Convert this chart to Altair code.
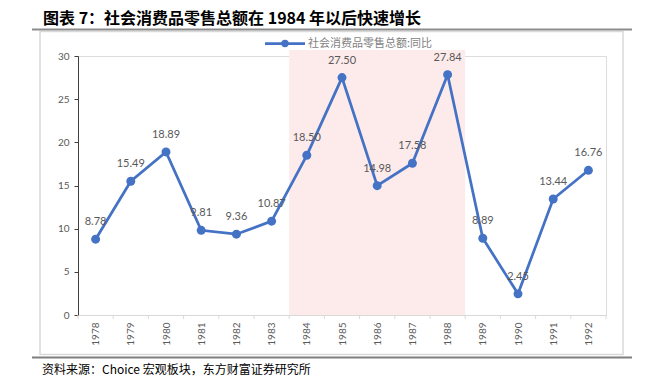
import altair as alt
import pandas as pd

years = [1978, 1979, 1980, 1981, 1982, 1983, 1984, 1985, 1986, 1987, 1988, 1989, 1990, 1991, 1992]
growth = [8.78, 15.49, 18.89, 9.81, 9.36, 10.87, 18.50, 27.50, 14.98, 17.58, 27.84, 8.89, 2.45, 13.44, 16.76]
series_name = "社会消费品零售总额:同比"
shade_start = [1983.5]
shade_end = [1988.5]
shade_top = [30.7]
y_ticks = [0, 5, 10, 15, 20, 25, 30]
title_text = "图表 7：社会消费品零售总额在 1984 年以后快速增长"
source_text = "资料来源：Choice 宏观板块，东方财富证券研究所"

W, H = 528, 259
BLUE = "#4472C4"
CJK = "Noto Sans CJK SC"
NUM = "Lato"

df = pd.DataFrame({"year": years, "growth": growth})
edges = pd.DataFrame({"edge": [years[0] - 0.5] + [y + 0.5 for y in years]})
shade = pd.DataFrame({"x0": shade_start, "x1": shade_end, "top": shade_top, "y0": [0]})
one = pd.DataFrame({"a": [0]})

xscale = alt.Scale(domain=[years[0] - 0.5, years[-1] + 0.5], nice=False, zero=False)
yscale = alt.Scale(domain=[0, 30], nice=False)

xaxis = alt.Axis(values=years, format="d", labelAngle=270, ticks=False, domainColor="#D9D9D9",
                 domainWidth=1, labelColor="#595959", labelFont=NUM, labelFontSize=10,
                 labelPadding=7, labelOverlap=False, labelBound=False, labelFlush=False,
                 title=None, grid=False)
yaxis = alt.Axis(values=y_ticks, tickSize=4, tickColor="#404040", domainColor="#404040",
                 labelColor="#595959", labelFont=NUM, labelFontSize=10, labelPadding=5,
                 labelOverlap=False, title=None, grid=False)

X = lambda f: alt.X(f, scale=xscale, axis=xaxis)
Y = lambda f: alt.Y(f, scale=yscale, axis=yaxis)

shade_l = alt.Chart(shade).mark_rect(color="#FDEBEB").encode(
    x=X("x0:Q"), x2="x1:Q", y=Y("y0:Q"), y2="top:Q",
)

ticks_l = alt.Chart(edges).mark_rule(color="#D9D9D9", strokeWidth=1).encode(
    x=X("edge:Q"), y=alt.value(H), y2=alt.value(H + 4),
)

line_l = alt.Chart(df).mark_line(color=BLUE, strokeWidth=2.75).encode(
    x=X("year:Q"), y=Y("growth:Q"),
)
pts_l = alt.Chart(df).mark_circle(color=BLUE, size=80, opacity=1).encode(
    x=X("year:Q"), y=Y("growth:Q"),
)
lbl_l = alt.Chart(df).mark_text(dy=-17, color="#595959", font=NUM, fontSize=11,
                                baseline="middle", align="center").encode(
    x=X("year:Q"), y=Y("growth:Q"),
    text=alt.Text("growth:Q", format=".2f"),
)

# legend
leg_line = alt.Chart(one).mark_rule(color=BLUE, strokeWidth=2.75).encode(
    x=alt.value(187), x2=alt.value(227), y=alt.value(-12.5))
leg_pt = alt.Chart(one).mark_circle(color=BLUE, size=55, opacity=1).encode(
    x=alt.value(207), y=alt.value(-12.5))
leg_txt = alt.Chart(one).mark_text(text=series_name, align="left", baseline="middle",
                                   font=CJK, fontSize=11, color="#7F7F7F").encode(
    x=alt.value(230), y=alt.value(-12.5))

# frame and decorations
frame = alt.Chart(one).mark_rect(fill="white", fillOpacity=0, stroke="#D9D9D9", strokeWidth=1.5).encode(
    x=alt.value(-38), x2=alt.value(545), y=alt.value(-24.5), y2=alt.value(298.5))
top_rule = alt.Chart(one).mark_rule(color="#8C8C8C", strokeWidth=2).encode(
    x=alt.value(-46), x2=alt.value(554), y=alt.value(-26.5))
bot_rule = alt.Chart(one).mark_rule(color="#7F7F7F", strokeWidth=2).encode(
    x=alt.value(-46), x2=alt.value(554), y=alt.value(301.5))
title_l = alt.Chart(one).mark_text(text=title_text, align="left", baseline="middle",
                                   font=CJK, fontSize=16, fontWeight="bold", color="#000000").encode(
    x=alt.value(-35), y=alt.value(-37))
source_l = alt.Chart(one).mark_text(text=source_text, align="left", baseline="middle",
                                    font=CJK, fontSize=12, color="#000000").encode(
    x=alt.value(-36), y=alt.value(313.5))

chart = alt.layer(
    frame, top_rule, bot_rule, title_l, source_l,
    shade_l, ticks_l, line_l, pts_l, lbl_l, leg_line, leg_pt, leg_txt
).properties(
    width=W, height=H,
    autosize=alt.AutoSizeParams(type="none"),
    padding={"left": 70, "top": 48, "right": 33, "bottom": 69},
).configure_view(stroke=None).configure_axisX(labelOverlap=False).configure(background="white")

chart.save("out.html", embed_options={"renderer": "svg", "actions": False})
